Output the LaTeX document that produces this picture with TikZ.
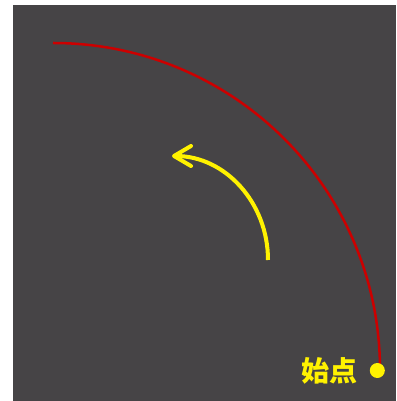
\documentclass[tikz,border=0pt]{standalone}
\usepackage{fontspec}
\newfontfamily\cjk{Noto Sans CJK JP}
\usetikzlibrary{arrows.meta,positioning}
\definecolor{bgcolor}{RGB}{70,68,70}
\definecolor{arcred}{RGB}{204,0,0}
\begin{document}
\begin{tikzpicture}[x=1pt,y=1pt,
    startdot/.style={circle,fill=yellow,inner sep=0pt,minimum size=15pt},
    startlabel/.style={text=yellow,inner sep=0pt,font=\cjk\bfseries\fontsize{28}{28}\selectfont}]
\useasboundingbox (0,0) rectangle (396,401);
% Background
\fill[bgcolor] (13,0) rectangle (396,396);

% Red quarter circle
\coordinate (arcstart) at (380,31);
\draw[arcred,line width=2.5pt] (arcstart) arc[start angle=0,end angle=90,radius=327];

% Yellow turning arrow
\coordinate (turnstart) at (268,141);
\draw[yellow,line width=4pt,-{Straight Barb[length=17pt,width=20pt,round]}]
    (turnstart) arc[start angle=0,end angle=90,x radius=96,y radius=104];

% Start point
\node[startdot] (start) at (377.3,30.5) {};
\node[startlabel,left=12pt of start] (label) {始点};
\end{tikzpicture}
\end{document}
